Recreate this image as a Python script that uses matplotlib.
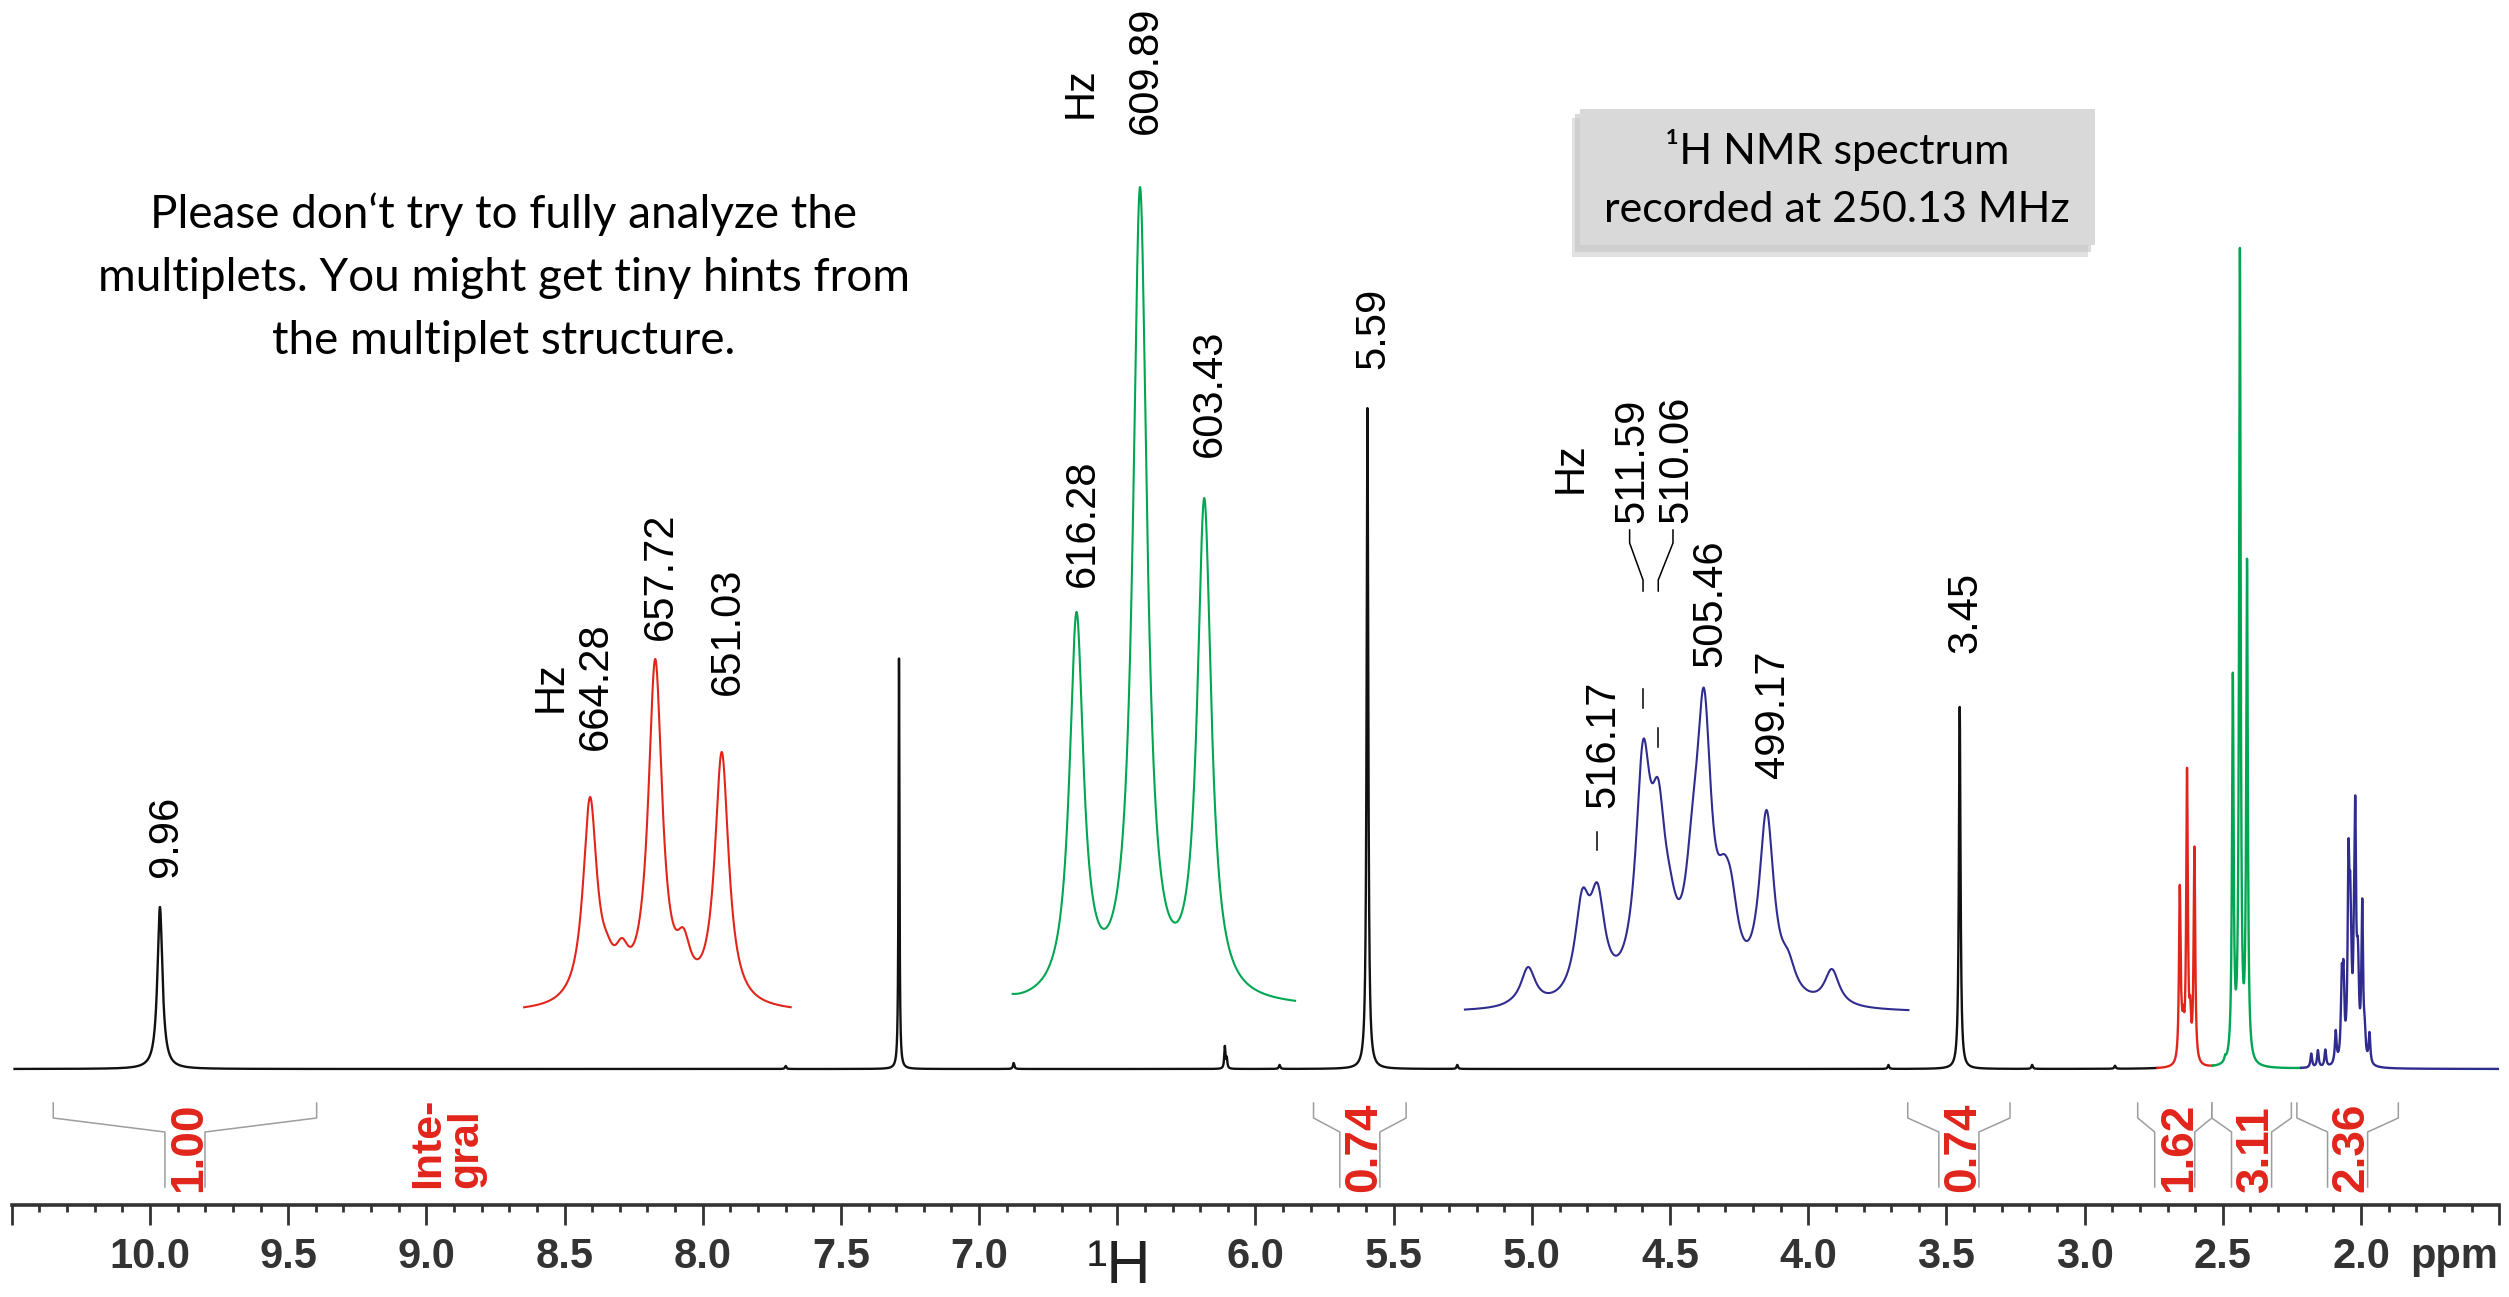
"""1H NMR spectrum at 250.13 MHz: full trace, three Hz expansions, integrals."""
import numpy as np
import matplotlib
matplotlib.use("Agg")
import matplotlib.pyplot as plt
from matplotlib.patches import Rectangle
from matplotlib.transforms import offset_copy, Bbox, TransformedBbox

plt.rcParams["font.family"] = ["Liberation Sans", "DejaVu Sans"]

W, H = 2509, 1297
MHZ = 250.13

# singlets / small lines of the full trace (ppm, height, fwhm in ppm)
SING_PPM = [9.964, 7.700, 7.290, 6.875, 6.111, 6.104, 5.913, 5.595, 5.270, 3.710, 3.452, 3.190, 2.890]
SING_H = [162, 3, 411, 6, 22, 10, 4, 661, 4, 4, 362, 4, 3]
SING_W = [0.022, 0.006, 0.004, 0.006, 0.005, 0.005, 0.006, 0.007, 0.006, 0.006, 0.007, 0.006, 0.006]
SHIFT_LABELS = [9.96, 5.59, 3.45]

# multiplets (line position in Hz, height there)
RED_HZ = [668.4, 666.9, 664.28, 662.57, 661.07, 657.72, 654.87, 651.03]
RED_H = [11, 25, 216, 80, 75, 354, 85, 261]
GREEN_HZ = [623.2, 616.28, 614.7, 609.89, 603.43]
GREEN_H = [14, 396, 115, 821, 510]
BLUE_HZ = [526.4, 524.9, 523.15, 517.7, 516.17, 511.59, 510.06, 508.9, 506.6,
           505.46, 503.5, 502.75, 499.17, 497.0, 492.6, 490.6]
BLUE_H = [3, 14, 46, 124, 130, 273, 234, 146, 211, 325, 159, 142, 203, 63, 44, 8]
# the same multiplets in the full trace are these expansions scaled
RED_SCALE, GREEN_SCALE, BLUE_SCALE = 0.85, 1.0, 0.84
# weak lines left of the blue multiplet, only in the full trace (ppm, height)
BLUE_EXTRA_PPM = [2.180, 2.156, 2.129]
BLUE_EXTRA_H = [14, 17, 17]

RED_LABELS = [664.28, 657.72, 651.03]
GREEN_LABELS = [616.28, 609.89, 603.43]
BLUE_LABELS = [516.17, 511.59, 510.06, 505.46, 499.17]

# integrals: region (ppm) and value
INT_FROM = [10.35, 5.79, 3.64, 2.808, 2.540, 2.232]
INT_TO = [9.397, 5.455, 3.27, 2.540, 2.252, 1.865]
INT_VAL = ["1.00", "0.74", "0.74", "1.62", "3.11", "2.36"]

TICKS = [10.5, 10.0, 9.5, 9.0, 8.5, 8.0, 7.5, 7.0, 6.5, 6.0, 5.5, 5.0, 4.5, 4.0, 3.5, 3.0, 2.5, 2.0, 1.5]
TICK_LABELS = ["", "10.0", "9.5", "9.0", "8.5", "8.0", "7.5", "7.0", "", "6.0", "5.5",
               "5.0", "4.5", "4.0", "3.5", "3.0", "2.5", "2.0", ""]

BLACK, RED, GREEN, BLUE = "#111111", "#e1251b", "#00a651", "#302c8f"
AXC, GRAY = "#333333", "#9d9d9d"
PPHZ = 9 * (2487.4 / 9.0) / MHZ   # expansions are 9x the full trace


def lor(x, x0, h, fwhm):
    return h / (1 + ((x - x0) / (0.5 * fwhm)) ** 2)


def line_amps(pos, target, fwhm):
    # amplitudes so that the summed lines reach the read heights
    pos = np.asarray(pos, float); target = np.asarray(target, float)
    A = 1 / (1 + ((pos[:, None] - pos[None, :]) / (0.5 * fwhm)) ** 2)
    keep = np.arange(len(pos)); amps = np.zeros(len(pos))
    while len(keep):
        sol = np.linalg.solve(A[np.ix_(keep, keep)], target[keep])
        if (sol >= 0).all():
            amps[keep] = sol; break
        keep = keep[sol >= 0]
    return amps


def multiplet(x, pos, amps, fwhm):
    return sum(lor(x, p, a, fwhm) for p, a in zip(pos, amps))


FW_RG, FW_B = 1.7, 1.8
red_a = line_amps(RED_HZ, RED_H, FW_RG)
green_a = line_amps(GREEN_HZ, GREEN_H, FW_RG)
blue_a = line_amps(BLUE_HZ, BLUE_H, FW_B)

fig = plt.figure(figsize=(W / 100, H / 100), dpi=100)

# ---- full trace on the ppm axis ----
ax = fig.add_axes([11.8 / W, (H - 1205) / H, 2487.4 / W, 1205 / H])
ax.set_xlim(10.5, 1.5); ax.set_ylim(-136, 1069)
ax.patch.set_visible(False)
for s in ("top", "left", "right"):
    ax.spines[s].set_visible(False)
ax.spines["bottom"].set_linewidth(2.6); ax.spines["bottom"].set_color(AXC)
ax.set_yticks([])
ax.set_xticks(TICKS); ax.set_xticklabels(TICK_LABELS, fontweight="bold")
ax.set_xticks(np.round(np.arange(1.5, 10.51, 0.1), 1), minor=True)
ax.tick_params(axis="x", which="major", length=14.4, width=2.0, color=AXC, pad=8.5,
               labelsize=30, labelcolor=AXC)
ax.tick_params(axis="x", which="minor", length=5, width=2.0, color=AXC)

ppm = np.linspace(10.49, 1.50, 40000)
spec = sum(lor(ppm, p, h, w) for p, h, w in zip(SING_PPM, SING_H, SING_W))
spec = spec + RED_SCALE * multiplet(ppm, np.array(RED_HZ) / MHZ, red_a, FW_RG / MHZ)
spec = spec + GREEN_SCALE * multiplet(ppm, np.array(GREEN_HZ) / MHZ, green_a, FW_RG / MHZ)
spec = spec + BLUE_SCALE * multiplet(ppm, np.array(BLUE_HZ) / MHZ, blue_a, FW_B / MHZ)
spec = spec + sum(lor(ppm, p, h, FW_B / MHZ) for p, h in zip(BLUE_EXTRA_PPM, BLUE_EXTRA_H))

for lo, hi, c in [(2.737, 10.6, BLACK), (2.535, 2.7372, RED), (2.216, 2.5352, GREEN), (1.4, 2.2162, BLUE)]:
    m = (ppm >= lo) & (ppm <= hi)
    ax.plot(ppm[m], spec[m], color=c, lw=1.7, solid_joinstyle="round")

lab_tr = offset_copy(ax.transData, fig=fig, x=6, y=0, units="dots")
for v, ppm_x, y in zip(SHIFT_LABELS, [9.964, 5.595, 3.452], [192, 700, 416]):
    ax.text(ppm_x, y, f"{v:.2f}", rotation=90, ha="center", va="bottom", fontsize=30,
            color="black", transform=lab_tr)

# ---- integrals ----
clip = TransformedBbox(Bbox([[1.5, -118], [10.5, 0]]), ax.transData)
int_tr = offset_copy(ax.transData, fig=fig, x=4, y=0, units="dots")
hw = 0.0725
for s, e, v in zip(INT_FROM, INT_TO, INT_VAL):
    mid = 0.5 * (s + e)
    ax.plot([s, s, mid + hw, mid + hw], [-34, -49, -63, -118], color=GRAY, lw=1.1)
    ax.plot([e, e, mid - hw, mid - hw], [-34, -49, -63, -118], color=GRAY, lw=1.1)
    ax.text(mid, -123, v, rotation=90, ha="center", va="bottom", fontsize=33, fontweight="bold",
            color=RED, transform=int_tr, clip_on=True, clip_box=clip)
ax.text(8.925, -119, "Inte-\ngral", rotation=90, ha="center", va="bottom", fontsize=31,
        fontweight="bold", color=RED, multialignment="left", linespacing=0.95)

fig.text(2498 / W, 1 - 1268 / H, "ppm", ha="right", va="baseline", fontsize=30,
         fontweight="bold", color=AXC)
fig.text(1119 / W, 1 - 1296 / H, "\u00b9H", ha="center", va="bottom", fontsize=44, color="#222222")


# ---- Hz expansions ----
def expansion(hz_ref, px_ref, base_px):
    a = fig.add_axes([0, 0, 1, 1])
    a.set_axis_off(); a.patch.set_visible(False)
    a.set_xlim(hz_ref + px_ref / PPHZ, hz_ref - (W - px_ref) / PPHZ)
    a.set_ylim(base_px - H, base_px)
    return a


def hz_label(a, x, y, text):
    a.text(x, y, text, rotation=90, ha="center", va="bottom", fontsize=30, color="black",
           transform=offset_copy(a.transData, fig=fig, x=6, y=0, units="dots"))


ar = expansion(664.28, 590, 1013)
hz = np.linspace(670.9, 644.1, 3000)
ar.plot(hz, multiplet(hz, RED_HZ, red_a, FW_RG), color=RED, lw=1.5)
hz_label(ar, 668.8, 301, "Hz")
for v, y in zip(RED_LABELS, [263, 373, 318]):
    hz_label(ar, v, y, f"{v:.2f}")

ag = expansion(616.28, 1076.5, 1008)
hz = np.linspace(622.7, 594.3, 3000)
ag.plot(hz, multiplet(hz, GREEN_HZ, green_a, FW_RG), color=GREEN, lw=1.5)
hz_label(ag, 616.43, 890, "Hz")
for v, y in zip(GREEN_LABELS, [421, 874, 551]):
    hz_label(ag, v, y, f"{v:.2f}")

ab = expansion(505.46, 1704, 1013)
hz = np.linspace(529.5, 484.9, 3000)
ab.plot(hz, multiplet(hz, BLUE_HZ, blue_a, FW_B), color=BLUE, lw=1.5)
hz_label(ab, 519.44, 520, "Hz")
for v, x, y in zip(BLUE_LABELS, [516.17, 513.30, 508.88, 505.46, 499.17], [205, 490, 490, 346, 235]):
    hz_label(ab, x, y, f"{v:.2f}")
ab.plot([516.17, 516.17], [163, 181], color="black", lw=1.1)
ab.plot([512.94, 512.94, 511.59, 511.59], [483, 470, 433, 422], color="black", lw=1.1)
ab.plot([511.59, 511.59], [305, 324], color="black", lw=1.1)
ab.plot([508.58, 508.58, 510.06, 510.06], [483, 470, 433, 422], color="black", lw=1.1)
ab.plot([510.06, 510.06], [266, 285], color="black", lw=1.1)


# ---- notes ----
def px_rect(x0, y0, x1, y1, **kw):
    return Rectangle((x0 / W, 1 - y1 / H), (x1 - x0) / W, (y1 - y0) / H,
                     transform=fig.transFigure, lw=0, **kw)


fig.add_artist(px_rect(1572, 118, 2088, 257, color="#bdbdbd", alpha=0.45))
fig.add_artist(px_rect(1575, 114, 2091, 252, color="#c2c2c2", alpha=0.6))
fig.add_artist(px_rect(1580, 109, 2095, 245, color="#d9d9d9"))
for txt, yb in [("\u00b9H NMR spectrum", 164), ("recorded at 250.13 MHz", 222)]:
    fig.text(1837 / W, 1 - yb / H, txt, ha="center", va="baseline", fontsize=31,
             family=["Lato", "DejaVu Sans"], color="black")

note = ["Please don\u2018t try to fully analyze the",
        "multiplets. You might get tiny hints from",
        "the multiplet structure."]
for txt, yb in zip(note, [228, 291, 354]):
    fig.text(504 / W, 1 - yb / H, txt, ha="center", va="baseline", fontsize=33,
             family=["Lato", "DejaVu Sans"], color="black")

fig.savefig("out.png", dpi=100)
